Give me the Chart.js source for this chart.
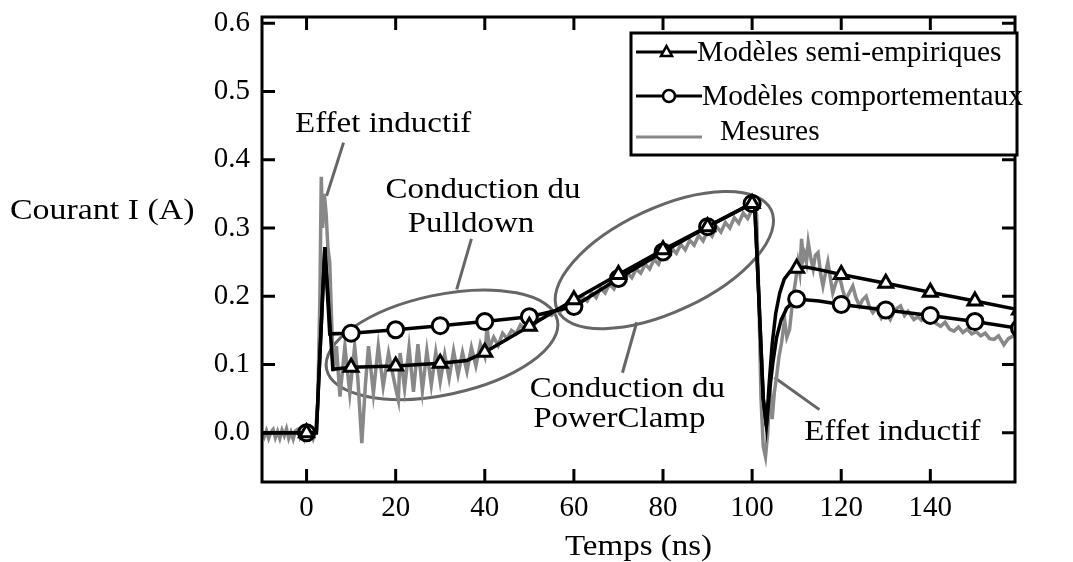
<!DOCTYPE html>
<html>
<head>
<meta charset="utf-8">
<script src="https://cdn.jsdelivr.net/npm/chart.js@4.4.1/dist/chart.umd.min.js"></script>
<style>
  html, body { margin: 0; padding: 0; background: #fff; }
</style>
</head>
<body>
<canvas id="currentChart" width="1073" height="562"></canvas>
<script>
const FONT = "Liberation Serif";

const xTicks = [0, 20, 40, 60, 80, 100, 120, 140];
const yTicks = [0.0, 0.1, 0.2, 0.3, 0.4, 0.5, 0.6];
const markerTimes = [0, 10, 20, 30, 40, 50, 60, 70, 80, 90, 100, 110, 120, 130, 140, 150, 160];

// Modèles semi-empiriques (triangles)
const semiT = [-10, 0, 2.2, 4.1, 5.9, 10, 20, 30, 36, 40, 50, 60, 70, 80, 90, 100, 100.6, 101.5, 102.5, 103.2, 103.8, 104.5, 105.3, 106.2, 107.2, 108.5, 110, 112, 115, 120, 130, 140, 150, 160];
const semiV = [0, 0, 0, 0.272, 0.093, 0.096, 0.098, 0.102, 0.106, 0.118, 0.156, 0.195, 0.232, 0.268, 0.302, 0.336, 0.33, 0.2, 0.05, 0.01, 0.07, 0.13, 0.175, 0.205, 0.225, 0.236, 0.241, 0.243, 0.239, 0.232, 0.219, 0.206, 0.193, 0.18];

// Modèles comportementaux (cercles)
const compT = [-10, 0, 2.2, 4.1, 5.2, 10, 20, 30, 40, 50, 60, 70, 80, 90, 100, 100.6, 101.5, 102.5, 103.2, 103.9, 104.7, 105.5, 106.5, 107.8, 110, 115, 120, 130, 140, 150, 160];
const compV = [0, 0, 0, 0.272, 0.145, 0.146, 0.151, 0.157, 0.163, 0.17, 0.185, 0.226, 0.265, 0.302, 0.336, 0.33, 0.2, 0.05, 0.01, 0.06, 0.105, 0.14, 0.165, 0.183, 0.196, 0.193, 0.188, 0.18, 0.172, 0.163, 0.153];

// Mesures
const measT = [-10, -9.5, -9, -8.5, -8, -7.5, -7, -6.5, -6, -5.5, -5, -4.5, -4, -3.5, -3, -2.5, -2, -1.5, -1, -0.5, 0, 0.5, 1, 1.5, 2,
  2.5, 3.0, 3.3, 3.6, 4.0, 4.4, 4.8, 5.2, 5.6, 6.0, 6.7, 7.5, 8.6, 9.7, 10.8, 11.5, 12.4, 13.2, 13.9, 15.0, 16.1, 17.2, 18.4, 19.9, 20.6, 21.0,
  22, 23, 24, 25, 26, 27, 28, 29, 30, 31, 32, 33, 34, 35, 36, 37, 38, 39, 40, 40.5, 41, 42, 43, 44, 45, 46, 47, 48, 49, 50,
  51, 52, 53, 54, 55, 56, 57, 58, 59, 60, 61, 62, 63, 64, 65, 66, 67, 68, 69, 70, 71, 72, 73, 74, 75, 76, 77, 78, 79, 80,
  81, 82, 83, 84, 85, 86, 87, 88, 89, 90, 91, 92, 93, 94, 95, 96, 97, 98, 99, 100, 100.5, 101, 101.5, 102, 102.5, 103, 103.5, 104, 104.5, 105,
  105.5, 106, 106.6, 107.3, 107.8, 108.4, 109.2, 109.7, 110.3, 110.7, 111.1, 111.5, 111.8, 112.2, 112.6, 113.2, 113.7, 114.2, 114.8, 115.4, 115.9,
  116.5, 117, 117.6, 118.1, 118.8, 119.6, 120.3, 121, 121.8, 122.6, 123.3, 124.1, 124.8, 125.6, 126.3, 127.1, 128, 129, 130, 131, 132, 133.3,
  134.2, 135, 136.3, 137.2, 138, 139.3, 140.3, 141.3, 142.3, 143.3, 144.3, 145.3, 146.3, 147.3, 148.3, 149.3, 150.3, 151.3, 152.3, 153.3,
  154.3, 155.3, 156.5, 157.5, 158.6, 159.5];
const measV = [0.002, -0.006, 0.003, -0.008, 0.001, 0.005, -0.007, 0.002, -0.008, 0.004, -0.004, 0.006, -0.008, 0.001, -0.009, 0.003, 0.005, -0.006, 0.002, -0.008, 0.004, -0.005, 0.003, -0.008, 0.002,
  0.04, 0.2, 0.375, 0.3, 0.35, 0.32, 0.27, 0.25, 0.17, 0.09, 0.127, 0.053, 0.127, 0.058, 0.127, 0.08, -0.015, 0.07, 0.127, 0.058, 0.127, 0.068, 0.117, 0.068, 0.048, 0.117,
  0.065, 0.125, 0.06, 0.13, 0.062, 0.12, 0.07, 0.118, 0.075, 0.115, 0.08, 0.12, 0.085, 0.118, 0.09, 0.125, 0.098, 0.13, 0.112, 0.155, 0.125, 0.14, 0.128, 0.146, 0.138, 0.15, 0.145, 0.158, 0.152, 0.16,
  0.157, 0.166, 0.168, 0.175, 0.172, 0.18, 0.178, 0.186, 0.183, 0.19, 0.188, 0.199, 0.193, 0.205, 0.198, 0.212, 0.205, 0.218, 0.211, 0.226, 0.22, 0.234, 0.227, 0.24, 0.234, 0.247, 0.24, 0.254, 0.247, 0.263,
  0.256, 0.27, 0.263, 0.276, 0.268, 0.282, 0.275, 0.289, 0.281, 0.296, 0.288, 0.302, 0.294, 0.308, 0.3, 0.315, 0.307, 0.322, 0.314, 0.327, 0.33, 0.32, 0.2, 0.05, -0.02, -0.035, 0.0, 0.07, 0.02, 0.06,
  0.083, 0.11, 0.132, 0.166, 0.14, 0.151, 0.2, 0.22, 0.25, 0.235, 0.284, 0.255, 0.262, 0.25, 0.279, 0.255, 0.24, 0.26, 0.264, 0.232, 0.215,
  0.235, 0.25, 0.225, 0.205, 0.22, 0.23, 0.21, 0.195, 0.205, 0.215, 0.198, 0.186, 0.195, 0.2, 0.185, 0.176, 0.183, 0.168, 0.178, 0.166, 0.18, 0.186,
  0.172, 0.178, 0.166, 0.17, 0.165, 0.176, 0.165, 0.16, 0.156, 0.162, 0.152, 0.149, 0.155, 0.147, 0.152, 0.145, 0.148, 0.142, 0.146, 0.138,
  0.137, 0.142, 0.129, 0.138, 0.142, 0.14];

// annotations, positioned in data units
const notes = [
  { text: "Effet inductif", x: 17.2, y: 0.441 },
  { text: "Conduction du", x: 39.6, y: 0.344 },
  { text: "Pulldown", x: 36.9, y: 0.294 },
  { text: "Conduction du", x: 72, y: 0.053 },
  { text: "PowerClamp", x: 70.2, y: 0.009 },
  { text: "Effet inductif", x: 131.5, y: -0.01 }
];
const pointers = [
  [8.3, 0.425, 4.5, 0.347],
  [37.0, 0.284, 33.7, 0.21],
  [74.1, 0.162, 70.9, 0.088],
  [105, 0.081, 115.1, 0.034]
];
const ellipses = [
  { x: 30.4, y: 0.129, a: 118, b: 50, rot: -12 },
  { x: 80.3, y: 0.253, a: 118, b: 52, rot: -25 }
];

function toPoints(ts, vs) {
  return ts.map((t, i) => ({ x: t, y: vs[i] }));
}

function markerRadius(r) {
  return c => (c.raw && markerTimes.includes(c.raw.x)) ? r : 0;
}

function drawText(ctx, text, x, y, size, stretch, align) {
  ctx.save();
  ctx.font = size + "px '" + FONT + "'";
  ctx.fillStyle = "#000";
  ctx.textBaseline = "alphabetic";
  ctx.textAlign = align;
  ctx.translate(x, y);
  ctx.scale(stretch, 1);
  ctx.fillText(text, 0, 0);
  ctx.restore();
}

const decor = {
  id: "decor",
  beforeDatasetsDraw(chart) {
    const ctx = chart.ctx;
    const xs = chart.scales.x, ys = chart.scales.y;
    ctx.save();
    ctx.strokeStyle = "#666";
    ctx.lineWidth = 3;
    ellipses.forEach(e => {
      ctx.beginPath();
      ctx.ellipse(xs.getPixelForValue(e.x), ys.getPixelForValue(e.y), e.a, e.b, e.rot * Math.PI / 180, 0, Math.PI * 2);
      ctx.stroke();
    });
    pointers.forEach(p => {
      ctx.beginPath();
      ctx.moveTo(xs.getPixelForValue(p[0]), ys.getPixelForValue(p[1]));
      ctx.lineTo(xs.getPixelForValue(p[2]), ys.getPixelForValue(p[3]));
      ctx.stroke();
    });
    ctx.restore();
  },
  afterDraw(chart) {
    const ctx = chart.ctx;
    const a = chart.chartArea;
    const xs = chart.scales.x, ys = chart.scales.y;

    ctx.save();
    ctx.strokeStyle = "#000";
    ctx.lineWidth = 3;
    ctx.strokeRect(a.left, a.top, a.right - a.left, a.bottom - a.top);

    // inward ticks on the four sides
    const tl = 13;
    ctx.beginPath();
    xTicks.forEach(v => {
      const px = xs.getPixelForValue(v);
      ctx.moveTo(px, a.bottom); ctx.lineTo(px, a.bottom - tl);
      ctx.moveTo(px, a.top); ctx.lineTo(px, a.top + tl);
    });
    yTicks.forEach(v => {
      const py = ys.getPixelForValue(v);
      ctx.moveTo(a.left, py); ctx.lineTo(a.left + tl, py);
      ctx.moveTo(a.right, py); ctx.lineTo(a.right - tl, py);
    });
    ctx.stroke();
    ctx.restore();

    // axis titles
    drawText(ctx, "Courant I (A)", 10, 219, 30, 1.13, "left");
    drawText(ctx, "Temps (ns)", (a.left + a.right) / 2, 555, 30, 1.1, "center");

    notes.forEach(n => {
      drawText(ctx, n.text, xs.getPixelForValue(n.x), ys.getPixelForValue(n.y), 30, 1.1, "center");
    });

    // legend box
    const lx = a.right - 384, ly = a.top + 16, lw = 386, lh = 122;
    ctx.save();
    ctx.fillStyle = "#fff";
    ctx.fillRect(lx, ly, lw, lh);
    ctx.strokeStyle = "#000";
    ctx.lineWidth = 3;
    ctx.strokeRect(lx, ly, lw, lh);

    const rows = [
      { label: "Modèles semi-empiriques", y: ly + 19, base: ly + 28, x0: lx + 5, x1: lx + 66, tx: lx + 66, marker: "triangle", color: "#000" },
      { label: "Modèles comportementaux", y: ly + 63, base: ly + 72, x0: lx + 5, x1: lx + 71, tx: lx + 71, marker: "circle", color: "#000" },
      { label: "Mesures", y: ly + 104, base: ly + 107, x0: lx + 5, x1: lx + 71, tx: lx + 89, marker: null, color: "#888" }
    ];
    rows.forEach(r => {
      ctx.strokeStyle = r.color;
      ctx.lineWidth = 3;
      ctx.beginPath();
      ctx.moveTo(r.x0, r.y);
      ctx.lineTo(r.x1, r.y);
      ctx.stroke();
      const mx = (r.x0 + r.x1) / 2;
      if (r.marker === "triangle") {
        ctx.fillStyle = "#fff";
        ctx.lineWidth = 2.5;
        ctx.beginPath();
        ctx.moveTo(mx, r.y - 6);
        ctx.lineTo(mx + 5.5, r.y + 4);
        ctx.lineTo(mx - 5.5, r.y + 4);
        ctx.closePath();
        ctx.fill();
        ctx.stroke();
      } else if (r.marker === "circle") {
        ctx.fillStyle = "#fff";
        ctx.lineWidth = 2.5;
        ctx.beginPath();
        ctx.arc(mx, r.y, 6, 0, Math.PI * 2);
        ctx.fill();
        ctx.stroke();
      }
      drawText(ctx, r.label, r.tx, r.base, 30, 0.98, "left");
    });
    ctx.restore();
  }
};

new Chart(document.getElementById("currentChart"), {
  type: "line",
  data: {
    datasets: [
      {
        label: "Modèles semi-empiriques",
        data: toPoints(semiT, semiV),
        borderColor: "#000",
        borderWidth: 3.5,
        tension: 0,
        pointStyle: "triangle",
        pointRadius: markerRadius(8),
        pointBackgroundColor: "#fff",
        pointBorderColor: "#000",
        pointBorderWidth: 3,
        order: 1
      },
      {
        label: "Modèles comportementaux",
        data: toPoints(compT, compV),
        borderColor: "#000",
        borderWidth: 3.5,
        tension: 0,
        pointStyle: "circle",
        pointRadius: markerRadius(8),
        pointBackgroundColor: "#fff",
        pointBorderColor: "#000",
        pointBorderWidth: 3,
        order: 2
      },
      {
        label: "Mesures",
        data: toPoints(measT, measV),
        borderColor: "#888",
        borderWidth: 3.5,
        tension: 0,
        pointRadius: 0,
        order: 3
      }
    ]
  },
  options: {
    responsive: false,
    animation: false,
    devicePixelRatio: 1,
    events: [],
    layout: { padding: { top: 17, right: 58, left: 0, bottom: 0 } },
    plugins: {
      legend: { display: false },
      tooltip: { enabled: false }
    },
    scales: {
      x: {
        type: "linear",
        min: -10,
        max: 159,
        afterBuildTicks: axis => { axis.ticks = xTicks.map(v => ({ value: v })); },
        afterFit: s => { s.height = 80; s.paddingLeft = 0; s.paddingRight = 0; },
        grid: { display: false, drawTicks: false },
        border: { display: false },
        ticks: {
          color: "#000",
          padding: 9,
          maxRotation: 0,
          autoSkip: false,
          font: { family: FONT, size: 29 }
        }
      },
      y: {
        type: "linear",
        min: -0.072,
        max: 0.609,
        afterBuildTicks: axis => { axis.ticks = yTicks.map(v => ({ value: v })); },
        afterFit: s => { s.width = 262; s.paddingTop = 0; s.paddingBottom = 0; },
        grid: { display: false, drawTicks: false },
        border: { display: false },
        ticks: {
          color: "#000",
          padding: 12,
          callback: v => v.toFixed(1),
          font: { family: FONT, size: 29 }
        }
      }
    }
  },
  plugins: [decor]
});
</script>
</body>
</html>
